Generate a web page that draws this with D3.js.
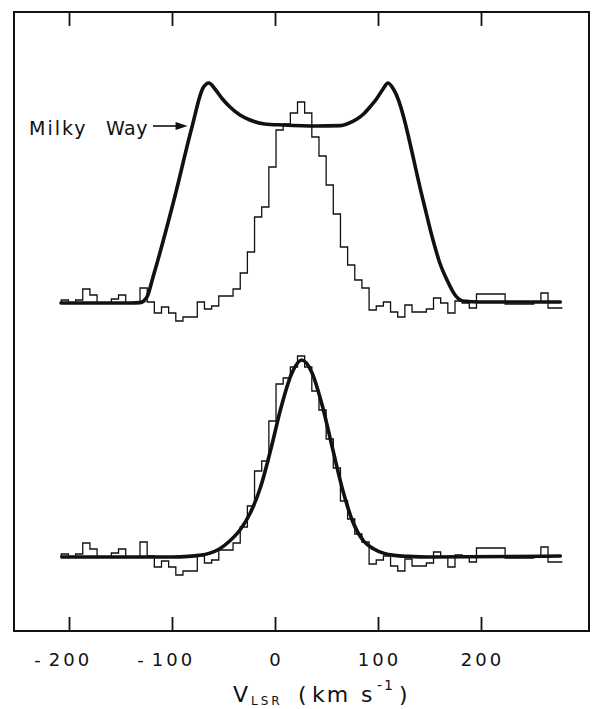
<!DOCTYPE html>
<html>
<head>
<meta charset="utf-8">
<script src="https://cdn.jsdelivr.net/npm/d3@7"></script>
<style>
html,body{margin:0;padding:0;background:#fff;}
svg{display:block;}
</style>
</head>
<body>
<svg id="chart" width="592" height="709"></svg>
<script>
// ---------------- DATA ----------------
// observed 21-cm spectrum (same profile shown in both panels), channel values in arbitrary T units
const binStart = -207.5;      // km/s, left edge of first channel
const binWidth = 6.95;        // km/s per channel
const spectrum = [
  0.15, 0, 0.15, 0.7, 0.4, 0, 0, 0.2, 0.4, 0,
  0, 0.75, 0.05, -0.5, -0.2, -0.5, -0.9, -0.7, -0.7, 0.05,
  -0.3, -0.15, 0.35, 0.35, 0.7, 1.5, 2.55, 4.3, 4.8, 6.8,
  8.65, 8.95, 9.5, 10.05, 9.5, 8.3, 7.35, 5.9, 4.45, 2.8,
  1.9, 1.15, 0.75, -0.35, -0.15, 0.05, -0.45, -0.7, -0.1, -0.45,
  -0.45, -0.3, 0.25, 0, -0.5, 0.1, 0, -0.25, 0.45, 0.45,
  0.45, 0.45, -0.05, -0.05, -0.05, -0.05, 0.05, 0.5, -0.25, -0.25
];

// Milky Way model profile (top panel)
const milkyWayV = [-207.8,-140,-131,-124.3,-118.4,-98.1,-80.6,-69.9,-64.1,-58.3,-51,-43.7,-34,-24.3,-10,7.8,40,63.1,72,79.6,86,92.2,98.5,104.9,109.7,115.5,143.7,153.4,160,167,174.8,182.5,199,277];
const milkyWayT = [0,0,0.02,0.3,1.3,5.15,8.8,10.75,11.0,10.7,10.2,9.8,9.4,9.15,8.95,8.9,8.85,8.87,9.0,9.2,9.45,9.8,10.2,10.7,11.0,10.65,5.15,3.15,2.0,1.15,0.4,0.1,0.05,0.05];

// fitted profile (bottom panel)
const fitV = [-207,-100,-84,-74,-64,-54,-44,-34,-24,-14,-4,6,16,26,36,46,56,66,76,86,96,106,116,130,150,277];
const fitT = [0,0,0.03,0.08,0.18,0.4,0.8,1.35,2.2,3.5,5.4,7.5,9.15,9.85,9.2,7.55,5.4,3.3,1.7,0.8,0.4,0.18,0.08,0.03,0,0.05];

const tickValues = [-200, -100, 0, 100, 200];
const tickLabels = ["-200", "-100", "0", "100", "200"];
const curveLabel = "Milky Way";
const axisTitle = {main: "V", sub: "LSR", unit: "km s", sup: "-1"};

// ---------------- DRAW ----------------
const svg = d3.select("#chart");
const ink = "#111";
const frame = {left: 14, top: 12, right: 589, bottom: 631};

const x = d3.scaleLinear().domain([-200, 200]).range([69, 481]);
const yTop = d3.scaleLinear().domain([0, 10]).range([303, 103]);
const yBot = d3.scaleLinear().domain([0, 10]).range([557, 357]);

// frame
svg.append("rect")
  .attr("x", frame.left).attr("y", frame.top)
  .attr("width", frame.right - frame.left).attr("height", frame.bottom - frame.top)
  .attr("fill", "none").attr("stroke", ink).attr("stroke-width", 2);

// axes (ticks pointing inward)
const bottomAxis = d3.axisBottom(x).tickValues(tickValues).tickSize(-14).tickFormat("");
const gb = svg.append("g").attr("transform", `translate(0,${frame.bottom})`).call(bottomAxis);
const topAxis = d3.axisTop(x).tickValues(tickValues).tickSize(-14).tickFormat("");
const gt = svg.append("g").attr("transform", `translate(0,${frame.top})`).call(topAxis);
[gb, gt].forEach(g => {
  g.select(".domain").remove();
  g.selectAll(".tick line").attr("stroke", ink).attr("stroke-width", 1.8);
});

// tick labels: digits centred on tick, minus sign set off to the left
const labG = svg.append("g").attr("font-family", "DejaVu Sans").attr("font-size", 18).attr("fill", ink);
tickValues.forEach((v, i) => {
  const lab = tickLabels[i];
  const neg = lab.startsWith("-");
  const digits = neg ? lab.slice(1) : lab;
  const t = labG.append("text")
    .attr("x", x(v) + 1.5).attr("y", 666)
    .attr("text-anchor", "middle").attr("letter-spacing", 3)
    .text(digits);
  if (neg) {
    const w = t.node().getComputedTextLength();
    labG.append("text")
      .attr("x", x(v) + 1.5 - w / 2 - 8).attr("y", 666)
      .attr("text-anchor", "end")
      .text("-");
  }
});

// axis title
const tg = svg.append("g").attr("font-family", "DejaVu Sans").attr("fill", ink);
tg.append("text").attr("x", 233).attr("y", 702).attr("font-size", 22).text(axisTitle.main);
tg.append("text").attr("x", 251).attr("y", 705).attr("font-size", 12).attr("letter-spacing", 3).text(axisTitle.sub);
tg.append("text").attr("x", 298).attr("y", 702).attr("font-size", 22).text("(");
tg.append("text").attr("x", 312).attr("y", 702).attr("font-size", 22).attr("letter-spacing", 2).text("km");
tg.append("text").attr("x", 361).attr("y", 702).attr("font-size", 22).text("s");
tg.append("text").attr("x", 377).attr("y", 690).attr("font-size", 14).attr("letter-spacing", 2).text(axisTitle.sup);
tg.append("text").attr("x", 399).attr("y", 702).attr("font-size", 22).text(")");

// histogram step lines
const edges = d3.range(spectrum.length + 1).map(i => binStart + i * binWidth);
const stepPts = [[edges[0], 0]].concat(spectrum.map((t, i) => [edges[i], t]), [[edges[spectrum.length], spectrum[spectrum.length - 1]]]);

function drawSteps(yScale) {
  const line = d3.line().x(d => x(d[0])).y(d => yScale(d[1])).curve(d3.curveStepAfter);
  svg.append("path").datum(stepPts)
    .attr("d", line)
    .attr("fill", "none").attr("stroke", ink).attr("stroke-width", 1.3)
    .attr("stroke-linejoin", "miter");
}
drawSteps(yTop);
drawSteps(yBot);

// smooth model curves
function drawCurve(vs, ts, yScale) {
  const line = d3.line().x(d => x(d[0])).y(d => yScale(d[1])).curve(d3.curveMonotoneX);
  svg.append("path").datum(vs.map((v, i) => [v, ts[i]]))
    .attr("d", line)
    .attr("fill", "none").attr("stroke", ink).attr("stroke-width", 3.6)
    .attr("stroke-linejoin", "round").attr("stroke-linecap", "round");
}
drawCurve(milkyWayV, milkyWayT, yTop);
drawCurve(fitV, fitT, yBot);

// Milky Way label + arrow
const lg = svg.append("g").attr("font-family", "DejaVu Sans").attr("font-size", 19).attr("fill", ink);
const words = curveLabel.split(" ");
lg.append("text").attr("x", 29).attr("y", 135).attr("letter-spacing", 2).text(words[0]);
lg.append("text").attr("x", 106).attr("y", 135).attr("letter-spacing", 0.5).text(words[1]);
const ay = yTop(8.9) + 1;
const tipX = x(-82) - 3;
svg.append("line").attr("x1", 153).attr("x2", tipX - 8).attr("y1", ay).attr("y2", ay)
  .attr("stroke", ink).attr("stroke-width", 1.6);
svg.append("path")
  .attr("d", `M${tipX},${ay} L${tipX - 12},${ay - 4} L${tipX - 12},${ay + 4} Z`)
  .attr("fill", ink);
</script>
</body>
</html>
